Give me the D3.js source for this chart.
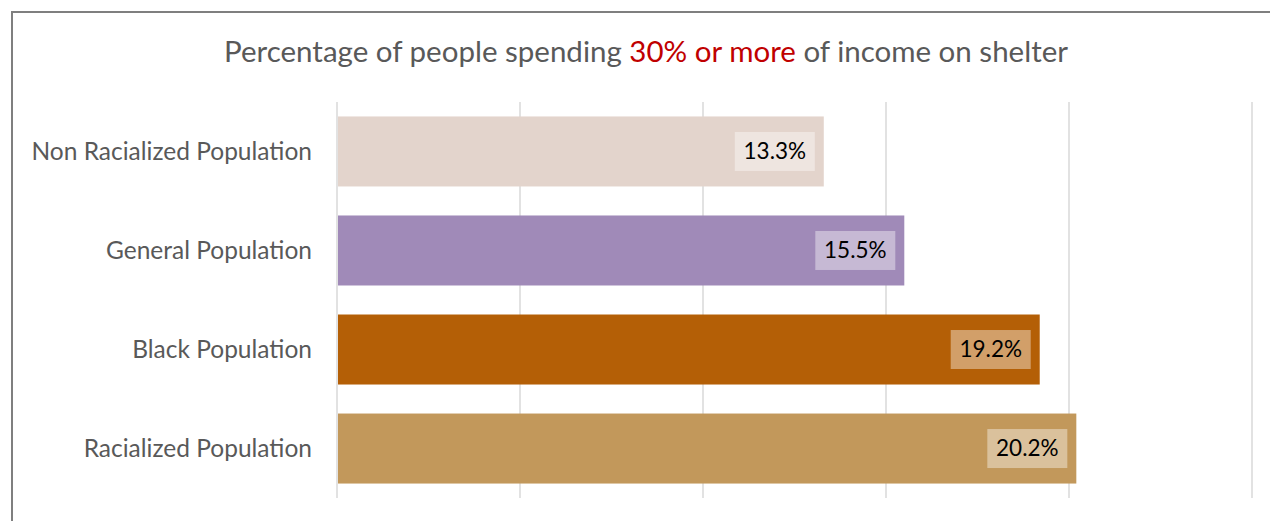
<!DOCTYPE html>
<html>
<head>
<meta charset="utf-8">
<script src="https://cdn.jsdelivr.net/npm/d3@7"></script>
<style>
  html, body { margin: 0; padding: 0; background: #fff; }
  svg { display: block; font-family: Lato, "Open Sans", sans-serif; }
</style>
</head>
<body>
<script>
// data
const categories = ['Non Racialized Population', 'General Population', 'Black Population', 'Racialized Population'];
const values = [13.3, 15.5, 19.2, 20.2];
const barColors = ['#e3d4cc', '#a08ab8', '#b45f06', '#c2985b'];
const xTicks = [0, 5, 10, 15, 20, 25];

const W = 1270, H = 521;
const margin = { top: 102, right: 18, bottom: 23, left: 337 };
const plotW = 1252 - margin.left;
const plotH = H - margin.top - margin.bottom;

const svg = d3.select('body').append('svg')
  .attr('width', W)
  .attr('height', H);

// frame (only top and left edges show in the window)
svg.append('rect')
  .attr('x', 12).attr('y', 12)
  .attr('width', W + 20).attr('height', H + 20)
  .attr('fill', 'none')
  .attr('stroke', '#7f7f7f')
  .attr('stroke-width', 2);

// title
const title = svg.append('text')
  .attr('x', 646).attr('y', 62)
  .attr('text-anchor', 'middle')
  .style('font-size', '29.5px')
  .attr('fill', '#595959');
title.append('tspan').text('Percentage of people spending ');
title.append('tspan').attr('fill', '#c00000').text('30% or more');
title.append('tspan').text(' of income on shelter');

const x = d3.scaleLinear().domain([0, 25]).range([0, plotW]);
const y = d3.scaleBand().domain(categories).range([0, plotH]).paddingInner(0.293).paddingOuter(0.146);

const g = svg.append('g')
  .attr('transform', 'translate(' + margin.left + ',' + margin.top + ')');

// gridlines
g.append('g')
  .selectAll('line')
  .data(xTicks)
  .enter()
  .append('line')
  .attr('x1', d => x(d)).attr('x2', d => x(d))
  .attr('y1', 0).attr('y2', plotH)
  .attr('stroke', '#d9d9d9')
  .attr('stroke-width', 1.5);

// bars
g.selectAll('rect.bar')
  .data(values)
  .enter()
  .append('rect')
  .attr('class', 'bar')
  .attr('x', x(0) + 1)
  .attr('y', (d, i) => y(categories[i]))
  .attr('width', d => x(d) - 1)
  .attr('height', y.bandwidth())
  .attr('fill', (d, i) => barColors[i]);

// value labels with light boxes
const lab = g.selectAll('g.lab')
  .data(values)
  .enter()
  .append('g')
  .attr('class', 'lab')
  .attr('transform', (d, i) => 'translate(' + (x(d) - 9) + ',' + (y(categories[i]) + y.bandwidth() / 2) + ')');

lab.append('rect')
  .attr('x', -80).attr('y', -19.5)
  .attr('width', 80).attr('height', 39)
  .attr('fill', '#fff')
  .attr('fill-opacity', 0.4);

lab.append('text')
  .attr('x', -40).attr('y', 0)
  .attr('dy', '0.35em')
  .attr('text-anchor', 'middle')
  .style('font-size', '22.5px')
  .attr('fill', '#000')
  .text(d => d.toFixed(1) + '%');

// category labels
g.selectAll('text.cat')
  .data(categories)
  .enter()
  .append('text')
  .attr('class', 'cat')
  .attr('x', -25)
  .attr('y', d => y(d) + y.bandwidth() / 2)
  .attr('dy', '0.35em')
  .attr('text-anchor', 'end')
  .style('font-size', '24.5px')
  .attr('fill', '#595959')
  .text(d => d);
</script>
</body>
</html>
